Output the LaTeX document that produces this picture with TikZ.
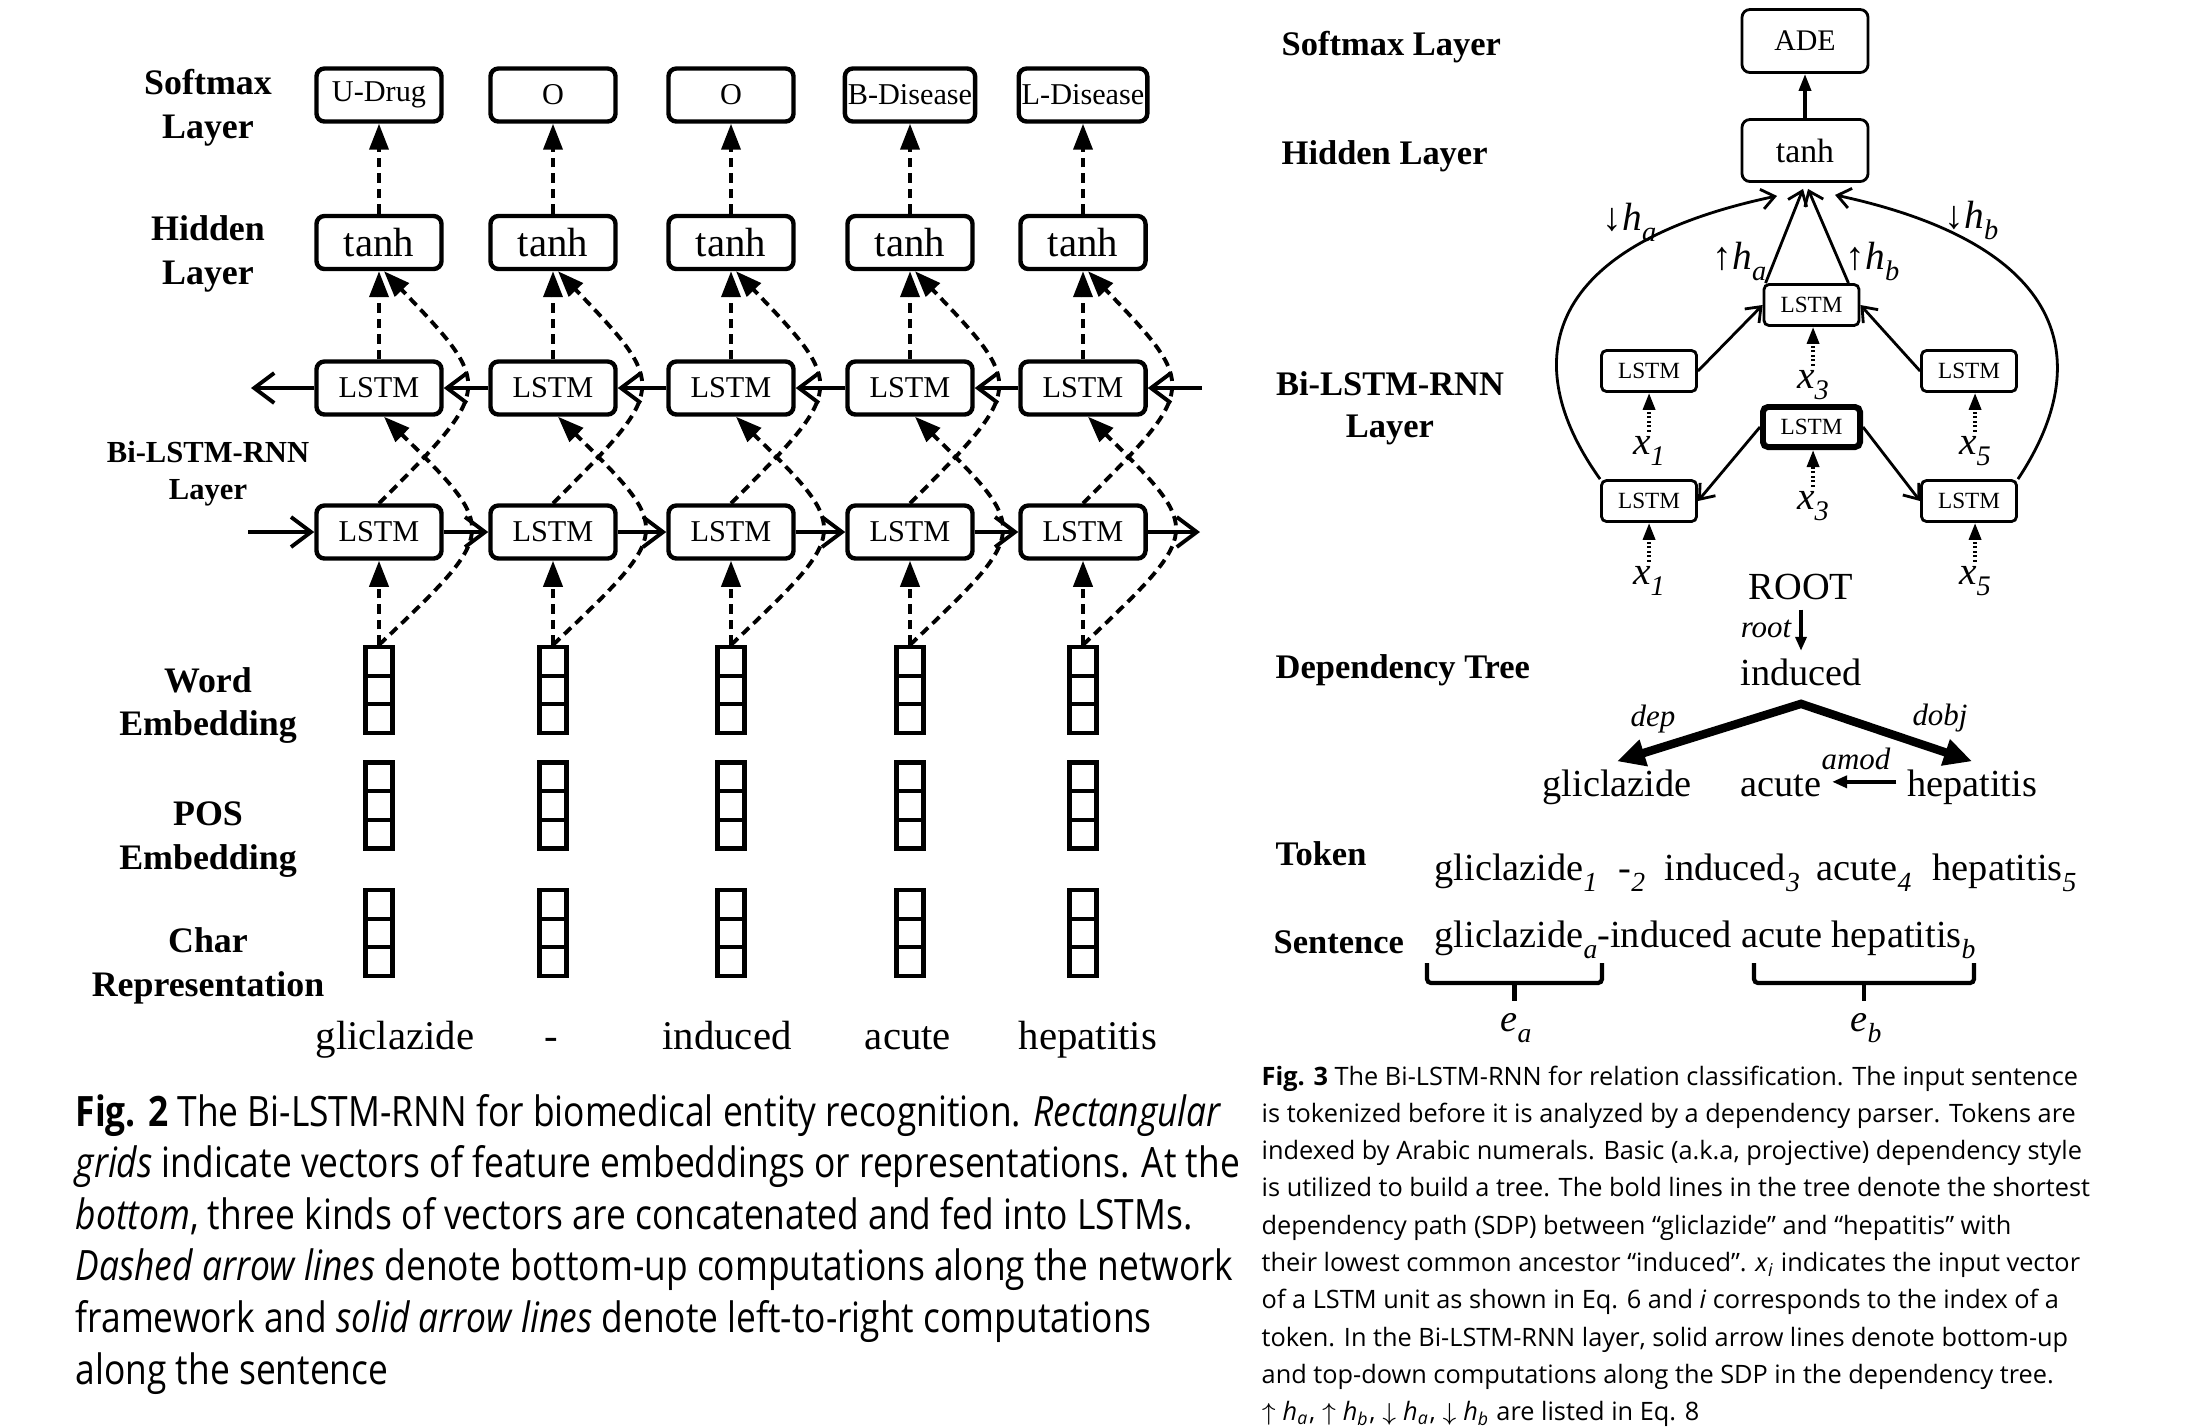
\documentclass[tikz,border=0pt]{standalone}
\usepackage{fontspec}
\usepackage{graphicx}
\setmainfont{Liberation Serif}
\newfontfamily\capLfont[FakeStretch=0.845]{Open Sans}
\newfontfamily\capRfont{Open Sans}
\usetikzlibrary{arrows.meta,calc}
\newcommand\subit[1]{\raisebox{-0.3em}{\scalebox{0.72}{\itshape #1}}}
\newcommand\capsub[1]{\textsubscript{\itshape #1}}
\begin{document}
\begin{tikzpicture}[x=0.01cm,y=-0.01cm,
  lbox/.style={draw,line width=1.25pt,rounded corners=0.08cm,minimum width=1.25cm,minimum height=0.53cm,inner xsep=0.03cm,inner ysep=0pt,font=\fontsize{8.6}{10}\selectfont},
  thbox/.style={lbox,font=\fontsize{11.6}{13}\selectfont},
  grid/.style={draw,line width=1.2pt,minimum width=0.27cm,minimum height=0.86cm,inner sep=0pt,
    path picture={\draw[line width=1.2pt]
      ($(path picture bounding box.north west)!0.3333!(path picture bounding box.south west)$) -- ($(path picture bounding box.north east)!0.3333!(path picture bounding box.south east)$)
      ($(path picture bounding box.north west)!0.6667!(path picture bounding box.south west)$) -- ($(path picture bounding box.north east)!0.6667!(path picture bounding box.south east)$);}},
  dasharr/.style={line width=1.1pt,dash pattern=on 0.095cm off 0.06cm,-{Triangle[length=0.26cm,width=0.19cm]}},
  harr/.style={line width=1.1pt,-{Straight Barb[length=0.2cm,width=0.3cm]}},
  word/.style={anchor=base,inner sep=0pt,font=\fontsize{11.6}{13}\selectfont},
  llab/.style={align=center,inner sep=0pt,font=\fontsize{10.2}{12.5}\selectfont\bfseries},
  llabs/.style={align=center,inner sep=0pt,font=\fontsize{8.7}{10.5}\selectfont\bfseries},
  rlab/.style={inner sep=0pt,font=\fontsize{9.8}{11.9}\selectfont\bfseries},
  rbox/.style={draw,line width=0.8pt,rounded corners=0.08cm,minimum width=1.26cm,minimum height=0.62cm,inner sep=0pt},
  rlstm/.style={draw,line width=0.8pt,rounded corners=0.05cm,minimum width=0.95cm,minimum height=0.41cm,inner sep=0pt,font=\fontsize{6.6}{8}\selectfont},
  rarr/.style={line width=0.8pt,-{Straight Barb[length=0.13cm,width=0.2cm]}},
  dotarr/.style={line width=1pt,dash pattern=on 0.02cm off 0.025cm,-{Triangle[length=0.17cm,width=0.12cm]}},
  xlab/.style={anchor=base west,inner sep=1pt,font=\fontsize{11.2}{12}\selectfont\itshape},
  hlab/.style={anchor=base west,inner sep=0pt,font=\fontsize{11.2}{12}\selectfont},
  dword/.style={anchor=base,inner sep=0.1cm,text height=0.683em,text depth=0.217em,font=\fontsize{10.9}{12}\selectfont},
  dlab/.style={anchor=base,inner sep=0pt,font=\fontsize{8.8}{10}\selectfont\itshape},
  deparr/.style={line width=2.4pt,line join=miter,{Triangle[length=0.28cm,width=0.26cm]}-{Triangle[length=0.28cm,width=0.26cm]}},
  tok/.style={anchor=base west,inner sep=0pt,font=\fontsize{10.9}{12}\selectfont},
  bracepath/.style={line width=1.2pt,rounded corners=0.04cm},
  capL/.style={anchor=base west,inner sep=0pt,font=\capLfont\fontsize{11.9}{14}\selectfont},
  capR/.style={anchor=base west,inner sep=0pt,font=\capRfont\fontsize{7.2}{9}\selectfont}
]
\fill[white] (0,0) rectangle (2206,1426);
\useasboundingbox (0,0) rectangle (2206,1426);

% ---------------- Fig. 2 ----------------
\foreach \i/\cx/\lab in {1/379/U-Drug,2/553/O,3/731/O,4/910/B-Disease,5/1083/L-Disease}{
  \node[lbox] (sm\i) at (\cx,95) {\lab};
  \node[thbox] (th\i) at (\cx,242.5) {tanh};
  \node[lbox] (lu\i) at (\cx,388) {LSTM};
  \node[lbox] (ll\i) at (\cx,532) {LSTM};
  \node[grid] (we\i) at (\cx,690) {};
  \node[grid] (pe\i) at (\cx,805.5) {};
  \node[grid] (ce\i) at (\cx,933) {};
}
\foreach \i in {1,...,5}{
  \draw[dasharr] (th\i.north) -- (sm\i.south);
  \draw[dasharr] (lu\i.north) -- (th\i.south);
  \draw[dasharr] (we\i.north) -- (ll\i.south);
  \draw[dasharr] (ll\i.north) .. controls +(115,-115) and +(110,115) .. ([xshift=0.05cm]th\i.south);
  \draw[dasharr] (we\i.north) .. controls +(120,-114) and +(115,114) .. ([xshift=0.05cm]lu\i.south);
}
\coordinate (inR) at (1202,388);
\coordinate (outL) at (251,388);
\coordinate (inL) at (248,532);
\coordinate (outR) at (1200,532);
\draw[harr] (inR) -- (lu5.east);
\foreach \i/\j in {1/2,2/3,3/4,4/5}{
  \draw[harr] (lu\j.west) -- (lu\i.east);
  \draw[harr] (ll\i.east) -- (ll\j.west);
}
\draw[harr] (lu1.west) -- (outL);
\draw[harr] (inL) -- (ll1.west);
\draw[harr] (ll5.east) -- (outR);

\foreach \i/\cx/\w in {1/395/gliclazide,2/551/-,3/727/induced,4/908/acute,5/1088/hepatitis}{
  \node[word] (w\i) at (\cx,1049) {\w};
}

\node[llab] (Lsm) at (208,107.5) {Softmax\\Layer};
\node[llab] (Lhid) at (208,253.5) {Hidden\\Layer};
\node[llabs] (Lbi) at (208,473.5) {Bi-LSTM-RNN\\Layer};
\node[llab] (Lwe) at (208,705.5) {Word\\Embedding};
\node[llab] (Lpe) at (208,840) {POS\\Embedding};
\node[llab] (Lce) at (208,965.5) {Char\\Representation};

% ---------------- Fig. 3 ----------------
\node[rlab,anchor=base west] (Rsm) at (1281,55.5) {Softmax Layer};
\node[rlab,anchor=base west] (Rhid) at (1281,164.5) {Hidden Layer};
\node[rlab,align=center] (Rbi) at (1390,408.5) {Bi-LSTM-RNN\\Layer};
\node[rlab,anchor=base west] (Rdt) at (1275,678) {Dependency Tree};
\node[rlab,anchor=base west] (Rtok) at (1275,865) {Token};
\node[rlab,anchor=base west] (Rsen) at (1273,953) {Sentence};

\node[rbox,minimum height=0.63cm,font=\fontsize{8.5}{10}\selectfont] (ade) at (1805,41) {ADE};
\node[rbox,font=\fontsize{9.6}{11}\selectfont] (tanhR) at (1805,150.5) {tanh};
\node[rlstm] (lT) at (1811.5,305) {LSTM};
\node[rlstm] (lML) at (1649,371) {LSTM};
\node[rlstm] (lMR) at (1969,371) {LSTM};
\node[rlstm,line width=1.7pt,minimum width=0.97cm,minimum height=0.40cm] (lB) at (1811.5,427) {LSTM};
\node[rlstm] (lBL) at (1649,501) {LSTM};
\node[rlstm] (lBR) at (1969,501) {LSTM};

\draw[line width=1pt,-{Triangle[length=0.17cm,width=0.12cm]}] (tanhR.north) -- (ade.south);

\draw[rarr] (lML.east) -- (lT.west);
\draw[rarr] (lMR.west) -- (lT.east);
\draw[rarr] (lB.west) -- (lBL.east);
\draw[rarr] (lB.east) -- (lBR.west);
\draw[rarr] ([xshift=0.03cm]lT.north west) -- ([xshift=-0.02cm,yshift=-0.06cm]tanhR.south);
\draw[rarr] ([xshift=-0.12cm]lT.north east) -- ([xshift=0.03cm,yshift=-0.06cm]tanhR.south);
\draw[rarr] (lBL.north west) .. controls (1515,360) and (1545,245) .. ([xshift=-0.28cm,yshift=-0.13cm]tanhR.south);
\draw[rarr] (lBR.north east) .. controls (2097,360) and (2067,245) .. ([xshift=0.30cm,yshift=-0.12cm]tanhR.south);

\node[xlab] (x3a) at (1793,388) {x\subit{3}};
\node[xlab] (x1a) at (1629,454) {x\subit{1}};
\node[xlab] (x5a) at (1955,454) {x\subit{5}};
\node[xlab] (x3b) at (1793,509) {x\subit{3}};
\node[xlab] (x1b) at (1629,584) {x\subit{1}};
\node[xlab] (x5b) at (1955,584) {x\subit{5}};
\draw[dotarr] (x3a.north) -- (x3a.north |- lT.south);
\draw[dotarr] (x1a.north) -- (x1a.north |- lML.south);
\draw[dotarr] (x5a.north) -- (x5a.north |- lMR.south);
\draw[dotarr] (x3b.north) -- (x3b.north |- lB.south);
\draw[dotarr] (x1b.north) -- (x1b.north |- lBL.south);
\draw[dotarr] (x5b.north) -- (x5b.north |- lBR.south);

\node[hlab] (hda) at (1602,230) {↓\textit{h}\subit{a}};
\node[hlab] (hua) at (1712,269) {↑\textit{h}\subit{a}};
\node[hlab] (hub) at (1845,269) {↑\textit{h}\subit{b}};
\node[hlab] (hdb) at (1944,228) {↓\textit{h}\subit{b}};

% dependency tree
\node[dword,text height=0.662em,text depth=0pt] (root) at (1801,599) {ROOT};
\node[dword] (ind) at (1801,685.5) {induced};
\node[dword] (gli) at (1617,796) {gliclazide};
\node[dword] (acu) at (1781,796) {acute};
\node[dword] (hep) at (1972,796) {hepatitis};
\draw[line width=1pt,-{Triangle[length=0.14cm,width=0.11cm]}] (root.south) -- (ind.north);
\draw[deparr] (gli.north) -- (ind.south) -- (hep.north);
\draw[line width=1.3pt,-{Triangle[length=0.15cm,width=0.12cm]}] ([yshift=0.06cm]hep.west) -- ([yshift=0.06cm]acu.east);
\node[dlab] (lroot) at (1766,637) {root};
\node[dlab] (ldep) at (1653,726) {dep};
\node[dlab] (ldobj) at (1940,725) {dobj};
\node[dlab] (lamod) at (1856,769) {amod};

% tokens and sentence
\node[tok] (t1) at (1434,880) {gliclazide\subit{1}};
\node[tok] (t2) at (1618,880) {-\subit{2}};
\node[tok] (t3) at (1664,880) {induced\subit{3}};
\node[tok] (t4) at (1816,880) {acute\subit{4}};
\node[tok] (t5) at (1932,880) {hepatitis\subit{5}};
\node[tok] (sent) at (1434,947) {gliclazide\subit{a}-induced acute hepatitis\subit{b}};
\draw[bracepath] (1427,963) |- (1602,983) -- (1602,963);
\draw[line width=1.2pt] (1514.5,983) -- (1514.5,1001);
\draw[bracepath] (1754,963) |- (1974,983) -- (1974,963);
\draw[line width=1.2pt] (1864,983) -- (1864,1001);
\node[tok,font=\fontsize{10.9}{12}\selectfont\itshape] (ea) at (1500,1031) {e\subit{a}};
\node[tok,font=\fontsize{10.9}{12}\selectfont\itshape] (eb) at (1850,1031) {e\subit{b}};

% captions
\node[capL] (c2a) at (75,1126) {\textbf{Fig. 2} The Bi-LSTM-RNN for biomedical entity recognition. \textit{Rectangular}};
\node[capL] (c2b) at (75,1177.6) {\textit{grids} indicate vectors of feature embeddings or representations. At the};
\node[capL] (c2c) at (75,1229.2) {\textit{bottom}, three kinds of vectors are concatenated and fed into LSTMs.};
\node[capL] (c2d) at (75,1280.8) {\textit{Dashed arrow lines} denote bottom-up computations along the network};
\node[capL] (c2e) at (75,1332.4) {framework and \textit{solid arrow lines} denote left-to-right computations};
\node[capL] (c2f) at (75,1384) {along the sentence};

\node[capR] (c3a) at (1261,1085) {\textbf{Fig. 3} The Bi-LSTM-RNN for relation classification. The input sentence};
\node[capR] (c3b) at (1261,1122.3) {is tokenized before it is analyzed by a dependency parser. Tokens are};
\node[capR] (c3c) at (1261,1159.6) {indexed by Arabic numerals. Basic (a.k.a, projective) dependency style};
\node[capR] (c3d) at (1261,1196.9) {is utilized to build a tree. The bold lines in the tree denote the shortest};
\node[capR] (c3e) at (1261,1234.2) {dependency path (SDP) between “gliclazide” and “hepatitis” with};
\node[capR] (c3f) at (1261,1271.5) {their lowest common ancestor “induced”. \textit{x}\capsub{i} indicates the input vector};
\node[capR] (c3g) at (1261,1308.8) {of a LSTM unit as shown in Eq. 6 and \textit{i} corresponds to the index of a};
\node[capR] (c3h) at (1261,1346.1) {token. In the Bi-LSTM-RNN layer, solid arrow lines denote bottom-up};
\node[capR] (c3i) at (1261,1383.4) {and top-down computations along the SDP in the dependency tree.};
\node[capR] (c3j) at (1261,1420.7) {$\uparrow$ \textit{h}\capsub{a}, $\uparrow$ \textit{h}\capsub{b}, $\downarrow$ \textit{h}\capsub{a}, $\downarrow$ \textit{h}\capsub{b} are listed in Eq. 8};
\end{tikzpicture}
\end{document}
